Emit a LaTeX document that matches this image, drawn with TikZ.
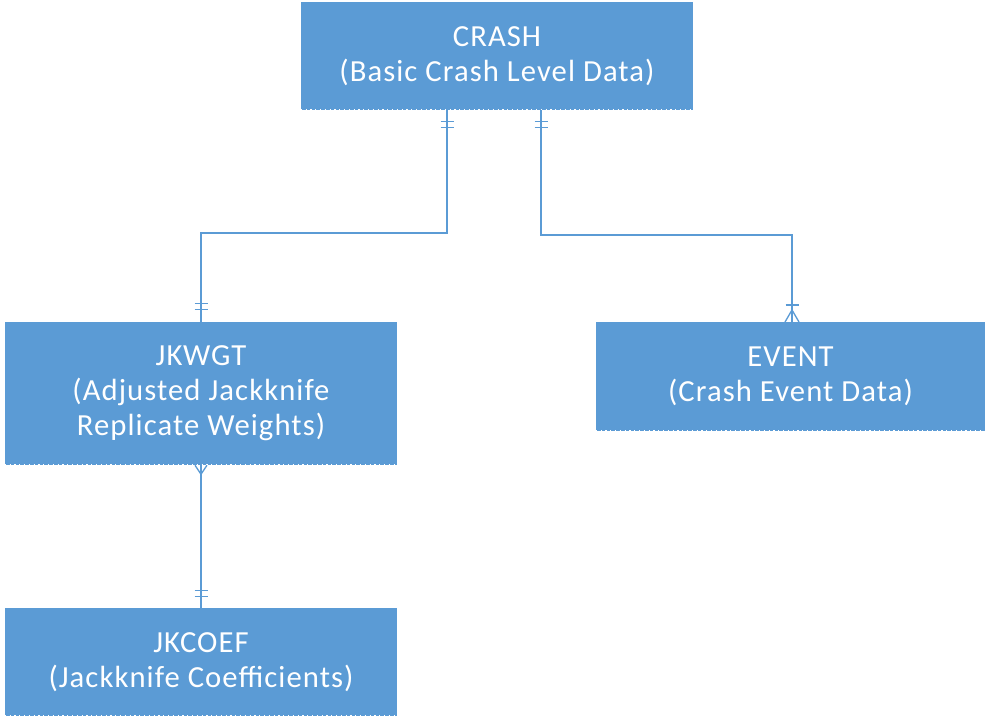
\documentclass[tikz,border=0pt]{standalone}
\usepackage{fontspec}
\setmainfont{Carlito}[LetterSpace=3.5]
\usetikzlibrary{calc}
\definecolor{boxblue}{HTML}{5B9BD5}
\definecolor{lineblue}{HTML}{5B9BD5}
\tikzset{
  entity/.style={rectangle, fill=boxblue, draw=none, inner sep=0pt, text=white, align=center,
    font=\fontsize{23}{26.3}\selectfont, minimum width=294pt},
  conn/.style={draw=lineblue, line width=1pt},
  edgedots/.style={draw=white, line width=1pt, dash pattern=on 1pt off 2.6pt}
}
\begin{document}
\begin{tikzpicture}[x=0.75pt, y=-0.75pt]
\useasboundingbox (0,0) rectangle (985,718);
\node[entity, minimum height=81pt] (crash) at (497,56) {CRASH\\(Basic Crash Level Data)};
\node[entity, minimum height=107.25pt] (jkwgt) at (201,393.5) {JKWGT\\(Adjusted Jackknife\\Replicate Weights)};
\node[entity, minimum width=291.75pt, minimum height=81.75pt] (event) at (790.5,376.5) {EVENT\\(Crash Event Data)};
\node[entity, minimum height=81pt] (jkcoef) at (201,662) {JKCOEF\\(Jackknife Coefficients)};
% dotted bottom edges
\foreach \n in {crash,jkwgt,event,jkcoef}{
  \draw[edgedots] ($(\n.south west)+(0,-0.7)$) -- ($(\n.south east)+(0,-0.7)$);
}
% connectors
\coordinate (c1) at (447,233);
\coordinate (c2) at (541,235);
\coordinate (e1) at (792,322);
\draw[conn] (crash.south -| c1) -- (c1) -| (jkwgt.north);
\draw[conn] (crash.south -| c2) -- (c2) -| (e1);
\draw[conn] (jkwgt.south) -- (jkcoef.north);
% CRASH end marks (one and only one)
\draw[conn] ($(crash.south -| c1)+(-6.5,11)$) -- ++(13,0);
\draw[conn] ($(crash.south -| c1)+(-6.5,17)$) -- ++(13,0);
\draw[conn] ($(crash.south -| c2)+(-6.5,11)$) -- ++(13,0);
\draw[conn] ($(crash.south -| c2)+(-6.5,17)$) -- ++(13,0);
% JKWGT top marks
\draw[conn] ($(jkwgt.north)+(-6.5,-18)$) -- ++(13,0);
\draw[conn] ($(jkwgt.north)+(-6.5,-12)$) -- ++(13,0);
% EVENT one-or-many
\draw[conn] ($(e1)+(-6.5,-17)$) -- ++(13,0);
\draw[conn] ($(e1)+(-7,0)$) -- ($(e1)+(0,-12)$) -- ($(e1)+(7,0)$);
% JKWGT bottom many
\draw[conn] ($(jkwgt.south)+(-6,0)$) -- ($(jkwgt.south)+(0,9)$) -- ($(jkwgt.south)+(6,0)$);
% JKCOEF top marks
\draw[conn] ($(jkcoef.north)+(-6.5,-17)$) -- ++(13,0);
\draw[conn] ($(jkcoef.north)+(-6.5,-11)$) -- ++(13,0);
\end{tikzpicture}
\end{document}
